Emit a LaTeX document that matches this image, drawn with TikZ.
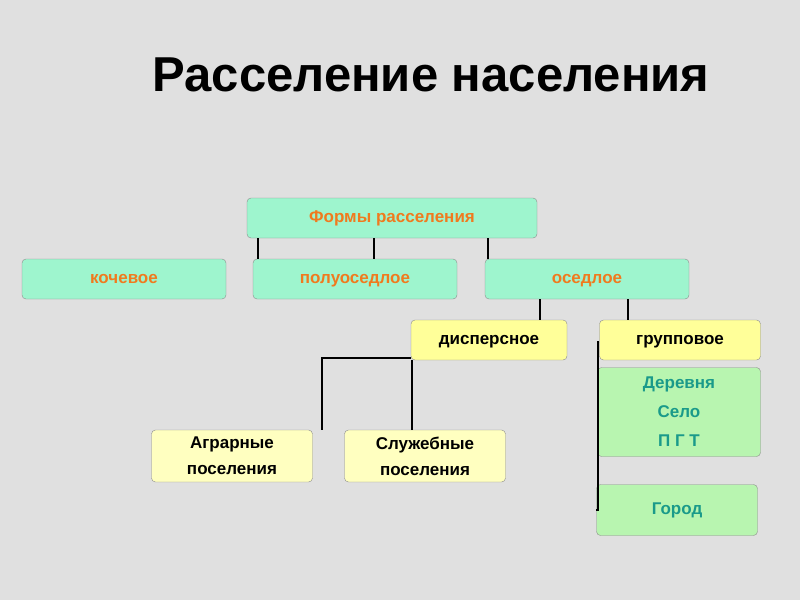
\documentclass[tikz,border=0pt]{standalone}
\usepackage{fontspec}
\setmainfont{Liberation Sans}
\begin{document}
\begin{tikzpicture}[x=1pt,y=-1pt,
 bx/.style={draw=black!45,rounded corners=4pt,inner sep=0pt,font=\bfseries\fontsize{17}{20}\selectfont},
 one/.style={text height=12pt,text depth=3.5pt},
 tl/.style={bx,one,fill=aquagr,text=orangetxt},
 yl/.style={bx,fill=paleyel,text=black},
 gr/.style={bx,fill=lightgr,text=tealtxt,align=center},
 ln/.style={line width=1.6pt,black}]
\definecolor{aquagr}{HTML}{9EF5CE}
\definecolor{orangetxt}{HTML}{F07A1E}
\definecolor{paleyel}{HTML}{FFFFC0}
\definecolor{yel}{HTML}{FFFF99}
\definecolor{lightgr}{HTML}{B8F5B0}
\definecolor{tealtxt}{HTML}{1A9A8A}
\fill[black!12] (0,0) rectangle (800,600);
\useasboundingbox (0,0) rectangle (800,600);
\node[font=\bfseries\fontsize{49}{54}\selectfont] (title) at (431,75) {Расселение населения};
\node[tl,minimum width=290pt,minimum height=40pt] (f) at (392,218) {Формы расселения};
\node[tl,minimum width=204pt,minimum height=40pt] (k) at (124,279) {кочевое};
\node[tl,minimum width=204pt,minimum height=40pt] (p) at (355,279) {полуоседлое};
\node[tl,minimum width=204pt,minimum height=40pt] (o) at (587,279) {оседлое};
\node[yl,one,fill=yel,minimum width=156pt,minimum height=40pt] (d) at (489,340) {дисперсное};
\node[yl,one,fill=yel,minimum width=161pt,minimum height=40pt] (g) at (680,340) {групповое};
\node[yl,minimum width=161pt,minimum height=52pt,align=center] (a) at (232,456) {Аграрные\\[6pt]поселения};
\node[yl,minimum width=161pt,minimum height=52pt,align=center] (s) at (425,456) {Служебные\\[6pt]поселения};
\node[gr,minimum width=163pt,minimum height=89pt] (v) at (679,412) {Деревня\\[9pt]Село\\[9pt]П Г Т};
\node[gr,one,minimum width=161pt,minimum height=51pt] (c) at (677,510) {Город};
\draw[ln] (f.south -| 258,0) -- (k.north -| 258,0);
\draw[ln] (f.south -| 374,0) -- (p.north -| 374,0);
\draw[ln] (f.south -| 488,0) -- (o.north -| 488,0);
\draw[ln] (o.south -| 540,0) -- (d.north -| 540,0);
\draw[ln] (o.south -| 628,0) -- (g.north -| 628,0);
\draw[ln] (d.south -| 412,0) -- (s.north -| 412,0);
\draw[ln] (d.west |- 0,358) -- (322,358) -- (a.north -| 322,0);
\draw[ln] (g.west |- 0,342) -- (598,342) -- (598,510) -- (c.west);
\end{tikzpicture}
\end{document}
